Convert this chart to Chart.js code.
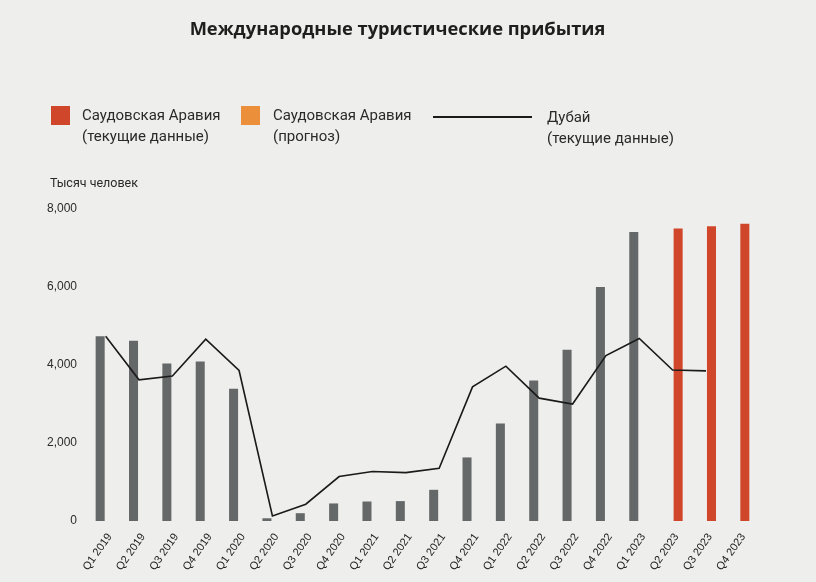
<!DOCTYPE html>
<html lang="ru">
<head>
    <meta charset="UTF-8">
    <title>Международные туристические прибытия</title>
    <script src="https://cdn.jsdelivr.net/npm/chart.js"></script>
    <style>
        html, body { margin: 0; padding: 0; }
        body {
            width: 816px; height: 582px; position: relative; overflow: hidden;
            background: #eeeeec; font-family: Roboto, 'Open Sans', sans-serif; color: #2a2a2a;
        }
        #title {
            position: absolute; left: 0; width: 795px; top: 15px;
            text-align: center; font-family: 'Open Sans', sans-serif;
            font-weight: 700; font-size: 18.3px; color: #1e1e1e;
        }
        .sw { position: absolute; top: 106px; width: 19px; height: 19px; }
        .lt { position: absolute; top: 105px; font-size: 15px; line-height: 21px; }
        #yTitle { position: absolute; left: 50px; top: 175px; font-size: 12.5px; }
        #chartBox { position: absolute; left: 0; top: 0; width: 816px; height: 582px; }
    </style>
</head>
<body>

<div id="chartBox"><canvas id="chart"></canvas></div>

<div id="title">Международные туристические прибытия</div>

<!-- legend -->
<div class="sw" style="left:51px; background:#d0462a;"></div>
<div class="lt" style="left:82px;">Саудовская Аравия<br>(текущие данные)</div>
<div class="sw" style="left:241px; background:#ec8f3a;"></div>
<div class="lt" style="left:273px;">Саудовская Аравия<br>(прогноз)</div>
<div style="position:absolute; left:433px; top:116px; width:99px; height:2px; background:#1a1a1a;"></div>
<div class="lt" style="left:547px; top:107px;">Дубай<br>(текущие данные)</div>

<div id="yTitle">Тысяч человек</div>

<script>
    const quarters = ['Q1 2019', 'Q2 2019', 'Q3 2019', 'Q4 2019', 'Q1 2020', 'Q2 2020', 'Q3 2020', 'Q4 2020',
        'Q1 2021', 'Q2 2021', 'Q3 2021', 'Q4 2021', 'Q1 2022', 'Q2 2022', 'Q3 2022', 'Q4 2022',
        'Q1 2023', 'Q2 2023', 'Q3 2023', 'Q4 2023'];
    // Saudi Arabia, earlier quarters (grey bars)
    const saudiPast = [4740, 4620, 4040, 4090, 3390, 70, 200, 450, 500, 510, 800, 1630, 2500, 3600, 4390, 6000,
        7410, null, null, null];
    // Saudi Arabia, latest quarters (red bars)
    const saudiLatest = [null, null, null, null, null, null, null, null, null, null, null, null, null, null, null, null,
        null, 7500, 7560, 7620];
    const dubai = [4740, 3620, 3720, 4660, 3860, 130, 430, 1140, 1270, 1240, 1350, 3440, 3970, 3150, 3000, 4240,
        4680, 3870, 3850, null];
    const yTicks = [0, 2000, 4000, 6000, 8000];

    const tickFamily = "'Liberation Sans', Arial, sans-serif";

    new Chart(document.getElementById('chart'), {
        type: 'bar',
        data: {
            labels: quarters,
            datasets: [
                {
                    type: 'line', label: 'Дубай (текущие данные)', data: dubai,
                    borderColor: '#1a1a1a', borderWidth: 1.6, pointRadius: 0, tension: 0,
                    fill: false, order: 0
                },
                {
                    label: 'Саудовская Аравия', data: saudiPast, backgroundColor: '#656869',
                    categoryPercentage: 0.66, barPercentage: 0.82, order: 1
                },
                {
                    label: 'Саудовская Аравия (текущие данные)', data: saudiLatest, backgroundColor: '#d0462a',
                    categoryPercentage: 0.66, barPercentage: 0.82, order: 1
                }
            ]
        },
        options: {
            responsive: true,
            maintainAspectRatio: false,
            animation: false,
            layout: { padding: { top: 209, right: 60, bottom: 6, left: 0 } },
            plugins: { legend: { display: false }, tooltip: { enabled: false } },
            scales: {
                x: {
                    grid: { display: false }, border: { display: false },
                    ticks: {
                        autoSkip: false, maxRotation: 55, minRotation: 55, padding: 2, labelOffset: 4,
                        color: '#222', font: { family: tickFamily, size: 11 }
                    },
                    afterFit: s => { s.height = 55; }
                },
                y: {
                    min: 0, max: 8000,
                    grid: { display: false }, border: { display: false },
                    afterBuildTicks: s => { s.ticks = yTicks.map(v => ({ value: v })); },
                    ticks: {
                        color: '#2a2a2a', font: { family: tickFamily, size: 12 }, padding: 4,
                        callback: v => v.toLocaleString('en-US')
                    },
                    afterFit: s => { s.width = 89; }
                }
            }
        }
    });
</script>

</body>
</html>
